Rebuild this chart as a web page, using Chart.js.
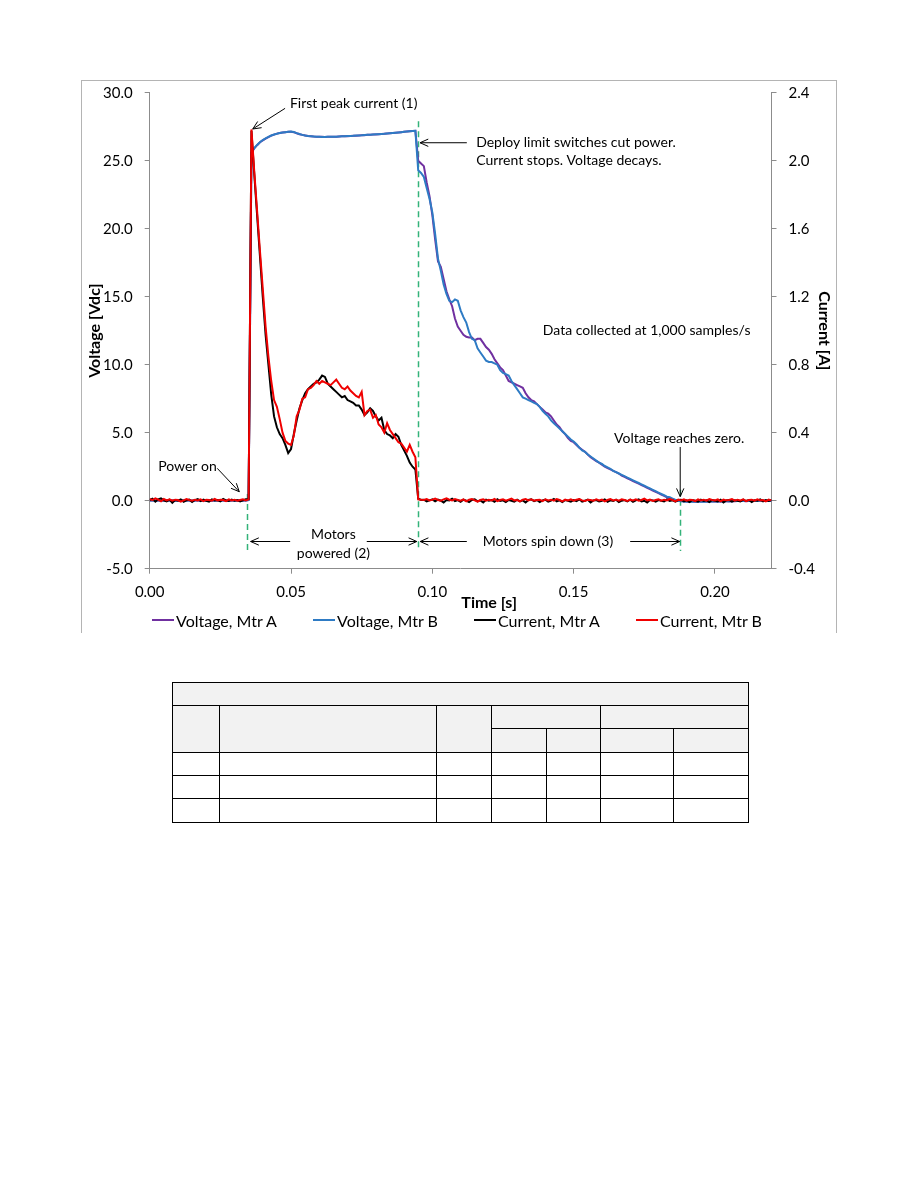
<!DOCTYPE html>
<html>
<head>
<meta charset="utf-8">
<script src="https://cdn.jsdelivr.net/npm/chart.js@4.4.1/dist/chart.umd.min.js"></script>
<style>
  body { margin: 0; background: #fff; font-family: Lato, sans-serif; }
  #page { position: relative; width: 918px; height: 1188px; overflow: hidden; }
  #frame { position: absolute; left: 81px; top: 80px; width: 754px; height: 552px; border: 1px solid #b4b4b4; border-bottom: none; }
  #chart { position: absolute; left: 0; top: 0; }
  .legend-item { position: absolute; top: 610px; height: 20px; display: flex; align-items: center; font-size: 16px; color: #000; white-space: nowrap; }
  .legend-item .swatch { display: inline-block; width: 22px; height: 2px; margin-right: 2px; }
  table { position: absolute; left: 172px; top: 682px; border-collapse: collapse; table-layout: fixed; width: 576px; }
  td { border: 1px solid #000; padding: 0; }
  tr.hd td { background: #f2f2f2; }
</style>
</head>
<body>
<div id="page">
  <div id="frame"></div>
  <canvas id="chart" width="918" height="632"></canvas>
  <div id="legend"></div>
  <table>
    <colgroup>
      <col style="width:47px"><col style="width:217px"><col style="width:55px">
      <col style="width:55px"><col style="width:54px"><col style="width:73px"><col style="width:75px">
    </colgroup>
    <tr class="hd" style="height:23px"><td colspan="7"></td></tr>
    <tr class="hd" style="height:23px"><td rowspan="2"></td><td rowspan="2"></td><td rowspan="2"></td><td colspan="2"></td><td colspan="2"></td></tr>
    <tr class="hd" style="height:24px"><td></td><td></td><td></td><td></td></tr>
    <tr style="height:23px"><td></td><td></td><td></td><td></td><td></td><td></td><td></td></tr>
    <tr style="height:23px"><td></td><td></td><td></td><td></td><td></td><td></td><td></td></tr>
    <tr style="height:24px"><td></td><td></td><td></td><td></td><td></td><td></td><td></td></tr>
  </table>
</div>
<script>
/* sample times, ms (1,000 samples/s) */
const timeMs = [
  0,1,2,3,4,5,6,7,8,9, 10,11,12,13,14,15,16,17,18,19,
  20,21,22,23,24,25,26,27,28,29, 30,31,32,33,34,35,36,37,38,39,
  40,41,42,43,44,45,46,47,48,49, 50,51,52,53,54,55,56,57,58,59,
  60,61,62,63,64,65,66,67,68,69, 70,71,72,73,74,75,76,77,78,79,
  80,81,82,83,84,85,86,87,88,89, 90,91,92,93,94,95,96,97,98,99,
  100,101,102,103,104,105,106,107,108,109, 110,111,112,113,114,115,116,117,118,119,
  120,121,122,123,124,125,126,127,128,129, 130,131,132,133,134,135,136,137,138,139,
  140,141,142,143,144,145,146,147,148,149, 150,151,152,153,154,155,156,157,158,159,
  160,161,162,163,164,165,166,167,168,169, 170,171,172,173,174,175,176,177,178,179,
  180,181,182,183,184,185,186,187,188,189, 190,191,192,193,194,195,196,197,198,199,
  200,201,202,203,204,205,206,207,208,209, 210,211,212,213,214,215,216,217,218,219,
  220
];

/* Voltage [Vdc] */
const voltageA = [
  0.02,0.03,0.01,0.02,0.00,0.01,0.03,0.02,0.01,0.00,
  0.02,0.01,0.03,0.02,0.01,0.00,0.02,0.03,0.01,0.02,
  0.01,0.02,0.00,0.01,0.03,0.02,0.01,0.02,0.00,0.01,
  0.02,0.01,0.03,0.02,0.01,0.05,25.58,25.9,26.14,26.36,
  26.5,26.63,26.74,26.84,26.92,26.99,27.03,27.07,27.1,27.12,
  27.13,27.1,27.02,26.95,26.9,26.86,26.82,26.8,26.78,26.77,
  26.76,26.76,26.75,26.76,26.77,26.76,26.77,26.78,26.79,26.8,
  26.8,26.82,26.83,26.84,26.86,26.87,26.88,26.9,26.91,26.92,
  26.93,26.95,26.96,26.98,27.0,27.02,27.04,27.06,27.08,27.1,
  27.12,27.14,27.16,27.18,27.2,25.0,24.8,24.6,23.4,22.4,
  21.0,19.2,17.6,17.2,16.3,15.4,14.8,14.3,13.4,12.8,
  12.5,12.2,12.05,12.0,12.0,11.8,11.9,11.9,11.6,11.3,
  11.1,10.8,10.4,10.1,9.8,9.6,9.2,8.8,8.7,8.6,
  8.5,8.4,8.3,7.9,7.6,7.4,7.3,7.1,6.9,6.7,
  6.5,6.4,6.2,5.9,5.6,5.4,5.1,4.9,4.6,4.4,
  4.3,4.1,3.9,3.75,3.6,3.4,3.2,3.05,2.9,2.8,
  2.65,2.5,2.4,2.3,2.2,2.1,2.0,1.85,1.75,1.65,
  1.55,1.45,1.35,1.25,1.15,1.05,0.95,0.85,0.75,0.65,
  0.55,0.45,0.35,0.25,0.15,0.1,0.05,0.0,-0.02,-0.04,
  -0.05,-0.06,-0.05,-0.07,-0.06,-0.05,-0.06,-0.04,-0.05,-0.06,
  -0.05,-0.04,-0.05,-0.03,-0.04,-0.05,-0.03,-0.04,-0.03,-0.02,
  -0.03,-0.04,-0.02,-0.03,-0.02,-0.03,-0.02,-0.01,-0.02,-0.01,
  -0.02
];
const voltageB = [
  0.01,0.02,0.02,0.01,0.01,0.02,0.02,0.01,0.02,0.01,
  0.01,0.02,0.02,0.01,0.02,0.01,0.01,0.02,0.02,0.01,
  0.02,0.01,0.01,0.02,0.02,0.01,0.02,0.01,0.01,0.02,
  0.01,0.02,0.02,0.01,0.02,0.04,25.62,25.92,26.16,26.36,
  26.52,26.64,26.75,26.85,26.93,26.98,27.04,27.08,27.1,27.12,
  27.14,27.11,27.03,26.96,26.9,26.85,26.82,26.8,26.78,26.76,
  26.76,26.75,26.75,26.76,26.76,26.77,26.77,26.78,26.79,26.8,
  26.81,26.82,26.83,26.85,26.86,26.87,26.89,26.9,26.91,26.93,
  26.94,26.95,26.97,26.98,27.0,27.02,27.04,27.06,27.08,27.1,
  27.12,27.14,27.16,27.18,27.2,24.3,24.1,23.8,23.0,22.2,
  21.2,19.6,17.8,16.9,15.9,15.2,14.7,14.6,14.8,14.7,
  14.0,13.5,13.1,12.4,11.9,11.8,11.2,10.9,10.6,10.3,
  10.2,10.2,10.1,10.0,9.6,9.4,9.3,9.2,8.8,8.5,
  8.2,7.9,7.6,7.5,7.4,7.3,7.2,7.1,6.9,6.6,
  6.4,6.2,5.9,5.7,5.5,5.3,5.1,4.9,4.7,4.5,
  4.35,4.15,3.9,3.7,3.6,3.4,3.25,3.1,2.95,2.8,
  2.7,2.55,2.45,2.35,2.2,2.1,2.0,1.9,1.8,1.7,
  1.6,1.5,1.4,1.3,1.2,1.1,1.0,0.9,0.8,0.7,
  0.6,0.5,0.4,0.3,0.25,0.15,0.05,0.0,-0.04,-0.06,
  -0.08,-0.07,-0.08,-0.06,-0.07,-0.08,-0.06,-0.07,-0.05,-0.06,
  -0.05,-0.06,-0.04,-0.05,-0.04,-0.03,-0.04,-0.03,-0.02,-0.03,
  -0.02,-0.03,-0.02,-0.01,-0.02,-0.01,-0.02,-0.01,0.0,-0.01,
  -0.01
];

/* Current [A] */
const currentA = [
  0.004,0.012,-0.006,0.008,0.014,0.002,-0.004,0.006,-0.012,0.004,
  0.0,0.008,-0.006,0.002,0.006,-0.008,0.004,0.01,-0.002,0.006,
  0.0,-0.006,0.008,0.002,0.004,-0.004,0.01,0.002,-0.002,0.006,
  0.0,0.004,-0.004,0.002,0.008,0.01,2.176,1.92,1.68,1.44,
  1.2,0.976,0.8,0.624,0.496,0.432,0.392,0.368,0.328,0.28,
  0.304,0.392,0.472,0.544,0.592,0.632,0.656,0.672,0.688,0.696,
  0.712,0.736,0.728,0.688,0.672,0.656,0.64,0.624,0.608,0.616,
  0.592,0.584,0.576,0.56,0.56,0.536,0.504,0.52,0.544,0.528,
  0.496,0.472,0.488,0.416,0.392,0.384,0.368,0.392,0.376,0.328,
  0.296,0.264,0.224,0.2,0.184,0.012,0.004,0.006,-0.004,0.002,
  0.008,-0.004,0.006,0.0,-0.01,0.004,0.002,0.012,-0.002,0.004,
  -0.006,0.006,0.0,-0.008,0.004,0.008,-0.004,0.002,-0.01,0.006,
  0.0,0.004,-0.006,0.008,-0.002,0.002,-0.008,0.004,0.0,-0.006,
  0.006,-0.004,0.002,-0.01,0.004,0.008,-0.002,0.004,-0.008,0.002,
  0.006,-0.006,0.0,0.01,-0.004,0.002,-0.008,0.004,0.0,-0.006,
  0.004,-0.002,0.008,-0.006,0.0,0.006,-0.01,0.002,0.004,-0.004,
  0.0,0.008,-0.006,0.002,-0.002,0.006,-0.008,0.0,0.004,-0.004,
  0.006,-0.006,0.002,0.008,-0.004,0.0,-0.01,0.004,0.002,-0.006,
  0.004,0.0,-0.004,0.008,-0.002,0.002,-0.006,0.004,0.006,-0.004,
  0.002,-0.008,0.004,0.0,-0.006,0.006,-0.002,0.002,-0.008,0.004,
  0.0,-0.004,0.006,-0.01,0.002,0.004,-0.006,0.002,0.0,-0.004,
  0.006,-0.002,0.004,-0.008,0.002,0.0,0.008,-0.004,0.004,-0.002,
  0.004
];
const currentB = [
  0.008,0.004,0.014,0.006,-0.004,0.01,0.002,0.008,0.0,0.006,
  0.004,-0.006,0.002,0.01,0.004,0.0,0.006,0.002,0.008,-0.002,
  0.006,0.004,0.0,0.01,0.002,0.006,0.004,-0.002,0.008,0.002,
  0.006,0.0,0.004,0.008,0.002,0.008,2.184,1.936,1.704,1.472,
  1.248,1.024,0.848,0.704,0.592,0.552,0.48,0.4,0.352,0.336,
  0.328,0.384,0.496,0.536,0.6,0.608,0.656,0.664,0.68,0.704,
  0.688,0.704,0.696,0.688,0.68,0.696,0.712,0.688,0.664,0.656,
  0.672,0.648,0.632,0.616,0.608,0.64,0.504,0.528,0.536,0.488,
  0.504,0.448,0.432,0.4,0.456,0.416,0.392,0.368,0.344,0.336,
  0.312,0.288,0.328,0.288,0.256,0.008,0.006,0.004,0.01,0.002,
  0.006,0.012,0.004,0.0,0.008,0.014,0.006,0.002,0.01,0.004,
  0.0,0.008,-0.004,0.006,0.01,0.002,-0.006,0.004,0.008,0.0,
  0.006,0.002,0.01,-0.002,0.004,0.008,0.0,0.006,0.012,0.002,
  0.004,-0.004,0.006,0.01,0.002,0.008,0.0,0.004,0.006,-0.002,
  0.008,0.002,0.006,0.0,0.01,0.004,-0.004,0.006,0.002,0.008,
  0.0,0.006,0.01,0.002,-0.002,0.006,0.004,0.0,0.008,0.002,
  0.006,-0.004,0.004,0.01,0.002,0.006,0.0,0.008,0.004,-0.002,
  0.006,0.002,0.008,0.0,0.004,0.012,0.002,0.006,-0.002,0.004,
  0.008,0.0,0.006,0.002,0.01,0.004,-0.004,0.006,0.002,0.008,
  0.0,0.006,0.004,-0.002,0.008,0.002,0.006,0.0,0.01,0.004,
  0.002,0.008,-0.004,0.006,0.002,0.004,0.01,0.0,0.006,0.002,
  0.008,-0.002,0.004,0.006,0.0,0.008,0.002,0.004,-0.004,0.006,
  0.002
];

/* axes */
const timeTicks = [0, 0.05, 0.10, 0.15, 0.20];
const voltageTicks = [-5, 0, 5, 10, 15, 20, 25, 30];
const currentTicks = [-0.4, 0, 0.4, 0.8, 1.2, 1.6, 2.0, 2.4];

/* phase markers [s] */
const powerOnTime = 0.0343;
const cutOffTime = 0.0950;
const zeroVoltTime = 0.1877;

const seriesNames = ['Voltage, Mtr A', 'Voltage, Mtr B', 'Current, Mtr A', 'Current, Mtr B'];
const seriesColors = ['#7030a0', '#2e7bc4', '#000000', '#f00000'];

const FONT = 'Lato';
const AXIS_GREY = '#8c8c8c';

function toPoints(values) {
  return values.map((v, i) => ({ x: timeMs[i] / 1000, y: v }));
}

function arrow(ctx, x1, y1, x2, y2) {
  const a = Math.atan2(y2 - y1, x2 - x1);
  const len = 9, spread = 0.42;
  ctx.beginPath();
  ctx.moveTo(x1, y1);
  ctx.lineTo(x2, y2);
  ctx.moveTo(x2 - len * Math.cos(a - spread), y2 - len * Math.sin(a - spread));
  ctx.lineTo(x2, y2);
  ctx.lineTo(x2 - len * Math.cos(a + spread), y2 - len * Math.sin(a + spread));
  ctx.stroke();
}

const notes = {
  id: 'notes',
  beforeDatasetsDraw(chart) {
    const { ctx, scales } = chart;
    const px = t => scales.x.getPixelForValue(t);
    const py = v => scales.y.getPixelForValue(v);
    ctx.save();
    ctx.strokeStyle = '#34b37a';
    ctx.lineWidth = 1.5;
    ctx.setLineDash([6, 4]);
    [[powerOnTime, 0.5], [cutOffTime, 27.9], [zeroVoltTime, 0.8]].forEach(([t, top]) => {
      ctx.beginPath();
      ctx.moveTo(Math.round(px(t)) + 0.5, py(top));
      ctx.lineTo(Math.round(px(t)) + 0.5, py(-3.7));
      ctx.stroke();
    });
    ctx.restore();
  },
  afterDatasetsDraw(chart) {
    const { ctx, scales } = chart;
    const px = t => scales.x.getPixelForValue(t);
    const py = v => scales.y.getPixelForValue(v);
    ctx.save();
    ctx.fillStyle = '#000';
    ctx.strokeStyle = '#000';
    ctx.lineWidth = 1;
    ctx.font = '14px ' + FONT;
    ctx.textBaseline = 'middle';
    ctx.textAlign = 'left';

    ctx.fillText('First peak current (1)', px(0.0496), py(29.2));
    arrow(ctx, px(0.0479), py(28.85), px(0.03645), py(27.33));

    ctx.fillText('Deploy limit switches cut power.', px(0.1155), py(26.32));
    ctx.fillText('Current stops. Voltage decays.', px(0.1155), py(24.98));
    arrow(ctx, px(0.1122), py(26.32), px(0.09565), py(26.32));

    ctx.fillText('Data collected at 1,000 samples/s', px(0.1391), py(12.5));

    ctx.fillText('Voltage reaches zero.', px(0.1643), py(4.57));
    arrow(ctx, px(zeroVoltTime), py(3.95), px(zeroVoltTime), py(0.3));

    ctx.fillText('Power on', px(0.0030), py(2.55));
    arrow(ctx, px(0.0239), py(2.38), px(0.0317), py(0.66));

    ctx.textAlign = 'center';
    ctx.fillText('Motors', px(0.0650), py(-2.45));
    ctx.fillText('powered (2)', px(0.0650), py(-3.85));
    ctx.fillText('Motors spin down (3)', px(0.1409), py(-3.0));
    arrow(ctx, px(0.0497), py(-3.0), px(0.0357), py(-3.0));
    arrow(ctx, px(0.0768), py(-3.0), px(0.0945), py(-3.0));
    arrow(ctx, px(0.1122), py(-3.0), px(0.0957), py(-3.0));
    arrow(ctx, px(0.1700), py(-3.0), px(0.1875), py(-3.0));

    ctx.font = 'bold 16px ' + FONT;
    ctx.fillText('Time [s]', px(0.1201), py(-7.5));
    ctx.restore();
  }
};

const drawOrder = [3, 2, 1, 0];
const seriesValues = [voltageA, voltageB, currentA, currentB];

const config = {
  type: 'line',
  data: {
    datasets: seriesValues.map((vals, i) => ({
      label: seriesNames[i],
      data: toPoints(vals),
      borderColor: seriesColors[i],
      backgroundColor: seriesColors[i],
      borderWidth: 2,
      pointRadius: 0,
      tension: 0,
      yAxisID: i < 2 ? 'y' : 'y1',
      order: drawOrder[i]
    }))
  },
  options: {
    responsive: false,
    animation: false,
    events: [],
    layout: { padding: { left: 82, right: 82, top: 92.7, bottom: 0 } },
    plugins: {
      legend: { display: false },
      tooltip: { enabled: false }
    },
    scales: {
      x: {
        type: 'linear',
        min: 0,
        max: 0.22,
        afterBuildTicks: s => { s.ticks = timeTicks.map(v => ({ value: v })); },
        afterFit: s => { s.height = 632 - 568.7; },
        grid: { drawOnChartArea: false, drawTicks: true, tickLength: 5, color: AXIS_GREY },
        border: { display: true, color: AXIS_GREY, width: 1 },
        ticks: {
          color: '#000',
          padding: 9,
          maxRotation: 0,
          font: { family: FONT, size: 15 },
          callback: v => v.toFixed(2)
        }
      },
      y: {
        position: 'left',
        min: -5,
        max: 30,
        afterBuildTicks: s => { s.ticks = voltageTicks.map(v => ({ value: v })); },
        afterFit: s => { s.width = 149.7 - 82; },
        grid: { drawOnChartArea: false, drawTicks: true, tickLength: 5, color: AXIS_GREY },
        border: { display: true, color: AXIS_GREY, width: 1 },
        ticks: {
          color: '#000',
          padding: 12,
          font: { family: FONT, size: 15 },
          callback: v => v.toFixed(1)
        },
        title: {
          display: true,
          text: 'Voltage [Vdc]',
          color: '#000',
          padding: { top: 3, bottom: 0 },
          font: { family: FONT, size: 16, weight: 'bold' }
        }
      },
      y1: {
        position: 'right',
        min: -0.4,
        max: 2.4,
        afterBuildTicks: s => { s.ticks = currentTicks.map(v => ({ value: v })); },
        afterFit: s => { s.width = 836 - 771.5; },
        grid: { drawOnChartArea: false, drawTicks: true, tickLength: 5, color: AXIS_GREY },
        border: { display: true, color: AXIS_GREY, width: 1 },
        ticks: {
          color: '#000',
          padding: 12,
          font: { family: FONT, size: 15 },
          callback: v => v.toFixed(1)
        },
        title: {
          display: true,
          text: 'Current [A]',
          color: '#000',
          padding: { top: 2, bottom: 0 },
          font: { family: FONT, size: 16, weight: 'bold' }
        }
      }
    }
  },
  plugins: [notes]
};

const motorChart = new Chart(document.getElementById('chart'), config);

/* legend below the plot */
const legendLeft = [152, 313, 474, 636];
const legendBox = document.getElementById('legend');
seriesNames.forEach((name, i) => {
  const item = document.createElement('div');
  item.className = 'legend-item';
  item.style.left = legendLeft[i] + 'px';
  item.innerHTML = '<span class="swatch" style="background:' + seriesColors[i] + '"></span>' + name;
  legendBox.appendChild(item);
});
</script>
</body>
</html>
